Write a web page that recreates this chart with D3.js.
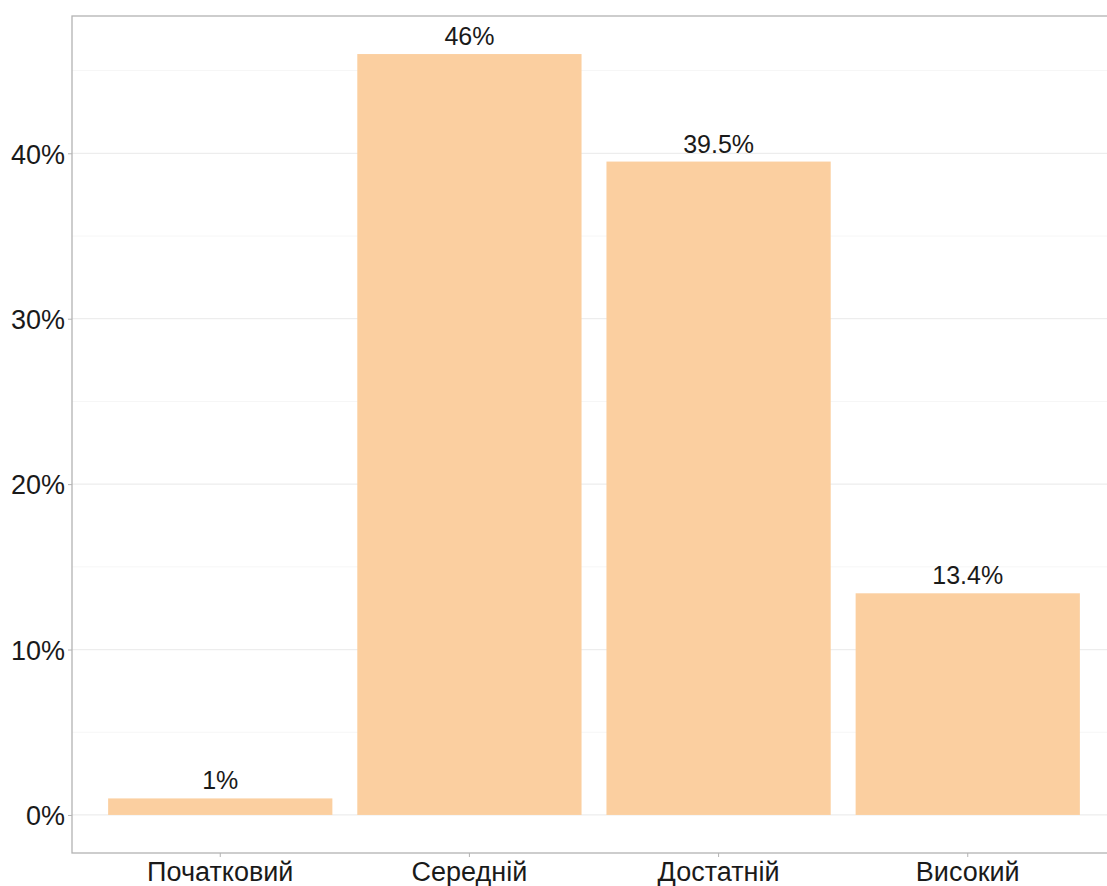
<!DOCTYPE html>
<html><head><meta charset="utf-8">
<script src="https://cdn.jsdelivr.net/npm/d3@7"></script>
<style>body{margin:0;background:#fff}svg{display:block}</style>
</head><body>
<script>
const categories = ["Початковий", "Середній", "Достатній", "Високий"];
const values = [1, 46, 39.5, 13.4];
const labels = ["1%", "46%", "39.5%", "13.4%"];
const yTicks = [0, 10, 20, 30, 40];
const yMinor = [5, 15, 25, 35, 45];

const W = 1107, H = 886;
const mLeft = 72, mRight = 1116, mTop = 16, mBottom = 853;
const svg = d3.select("body").append("svg").attr("width", W).attr("height", H);

const x = d3.scaleBand().domain(categories).range([mLeft, mRight]).paddingInner(0.1).paddingOuter(0.145);
const y = d3.scaleLinear().domain([-2.3, 48.3]).range([mBottom, mTop]);

// grid
svg.append("g").selectAll("line").data(yMinor).join("line")
  .attr("x1", mLeft).attr("x2", mRight).attr("y1", d => y(d)).attr("y2", d => y(d))
  .attr("stroke", "#f6f6f6").attr("stroke-width", 1);
svg.append("g").selectAll("line").data(yTicks).join("line")
  .attr("x1", mLeft).attr("x2", mRight).attr("y1", d => y(d)).attr("y2", d => y(d))
  .attr("stroke", "#ededed").attr("stroke-width", 1.2);

// bars
svg.append("g").selectAll("rect").data(values).join("rect")
  .attr("x", (d, i) => x(categories[i]))
  .attr("width", x.bandwidth())
  .attr("y", d => y(d))
  .attr("height", d => y(0) - y(d))
  .attr("fill", "#FBCFA0");

// bar labels
svg.append("g").selectAll("text").data(values).join("text")
  .attr("x", (d, i) => x(categories[i]) + x.bandwidth() / 2)
  .attr("y", d => y(d) - 9)
  .attr("text-anchor", "middle")
  .attr("font-family", "Liberation Sans, Arial, sans-serif")
  .attr("font-size", 25)
  .attr("fill", "#1a1a1a")
  .text((d, i) => labels[i]);

// panel border
svg.append("rect").attr("x", mLeft).attr("y", mTop).attr("width", mRight - mLeft).attr("height", mBottom - mTop)
  .attr("fill", "none").attr("stroke", "#b3b3b3").attr("stroke-width", 1.3);

// axes
const yAxis = d3.axisLeft(y).tickValues(yTicks).tickFormat(d => d + "%").tickSize(4).tickPadding(3);
const gy = svg.append("g").attr("transform", `translate(${mLeft},0)`).call(yAxis);
gy.select(".domain").remove();
gy.selectAll(".tick line").attr("stroke", "#b3b3b3");
gy.selectAll(".tick text").attr("font-family", "Liberation Sans, Arial, sans-serif")
  .attr("font-size", 27).attr("fill", "#1a1a1a").attr("dy", "0.36em");

const xAxis = d3.axisBottom(x).tickSize(4).tickPadding(5);
const gx = svg.append("g").attr("transform", `translate(0,${mBottom})`).call(xAxis);
gx.select(".domain").remove();
gx.selectAll(".tick line").attr("stroke", "#b3b3b3");
gx.selectAll(".tick text").attr("font-family", "Liberation Sans, Arial, sans-serif")
  .attr("font-size", 27).attr("fill", "#1a1a1a").attr("dy", "0.7em");
</script>
</body></html>
